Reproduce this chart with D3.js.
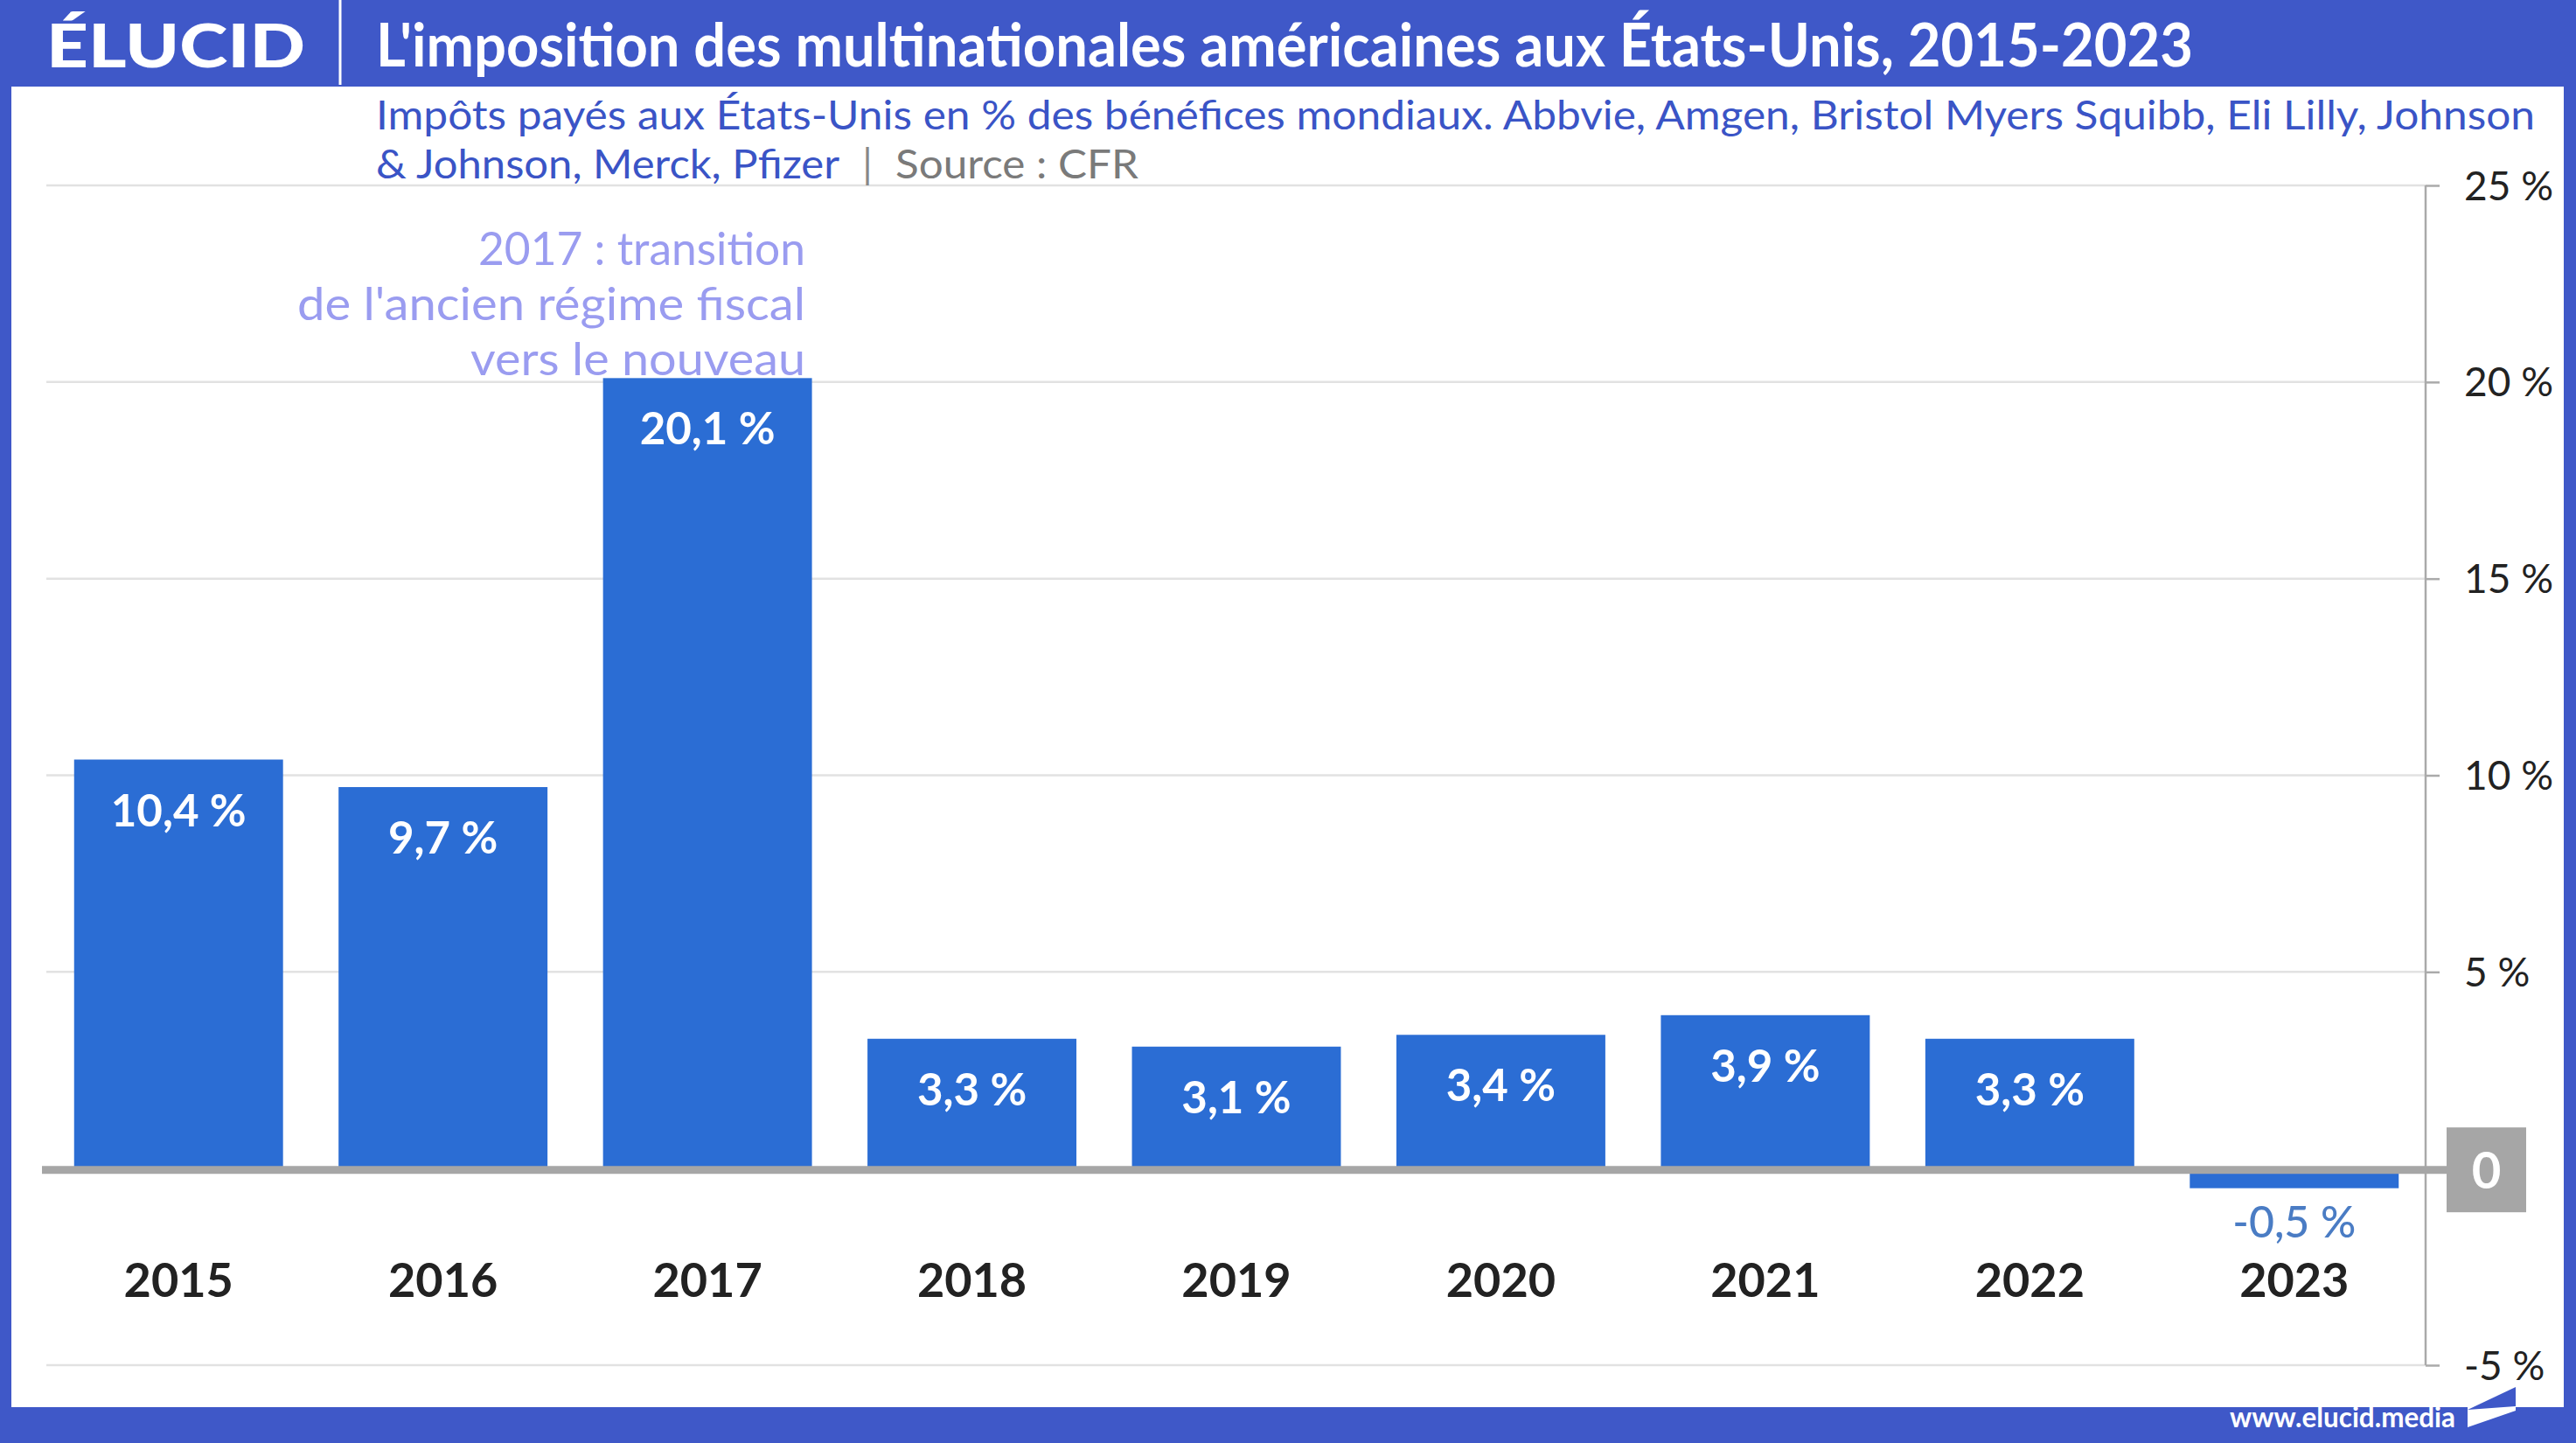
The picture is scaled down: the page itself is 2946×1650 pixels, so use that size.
<!DOCTYPE html>
<html><head><meta charset="utf-8">
<script src="https://cdn.jsdelivr.net/npm/d3@7"></script>
<style>html,body{margin:0;padding:0;background:#fff;}svg{display:block;}</style>
</head><body>
<script>
// ---- data ----
const years = ["2015","2016","2017","2018","2019","2020","2021","2022","2023"];
const values = [10.4, 9.7, 20.1, 3.3, 3.1, 3.4, 3.9, 3.3, -0.5];
const tickValues = [-5, 5, 10, 15, 20, 25];
const tickLabels = ["-5 %", "5 %", "10 %", "15 %", "20 %", "25 %"];
const title = "L'imposition des multinationales américaines aux États-Unis, 2015-2023";
const subtitle1 = "Impôts payés aux États-Unis en % des bénéfices mondiaux. Abbvie, Amgen, Bristol Myers Squibb, Eli Lilly, Johnson";
const subtitle2 = "& Johnson, Merck, Pfizer";
const sourceText = "Source : CFR";
const annotation = ["2017 : transition", "de l'ancien régime fiscal", "vers le nouveau"];
const annotationWidths = [374, 581, 383];

const W = 2946, H = 1650;
const FONT = "Lato, 'Open Sans', sans-serif";
const BAND = "#3f58c8", BAR = "#2b6dd4";

const svg = d3.select("body").append("svg").attr("width", W).attr("height", H)
  .style("font-family", FONT);

// frame
svg.append("rect").attr("width", W).attr("height", H).attr("fill", BAND);
svg.append("rect").attr("x", 13).attr("y", 99).attr("width", 2932 - 13).attr("height", 1609 - 99).attr("fill", "#fff");

// scales
const x = d3.scaleBand().domain(years).range([53, 2775]).paddingInner(0.21).paddingOuter(0.105);
const y = d3.scaleLinear().domain([-5, 25]).range([1561, 212]);
const fmt = v => d3.format(".1f")(v).replace(".", ",").replace("\u2212", "-") + " %";

// gridlines
svg.append("g").selectAll("line").data(tickValues).join("line")
  .attr("x1", 53).attr("x2", 2774)
  .attr("y1", d => y(d)).attr("y2", d => y(d))
  .attr("stroke", "#e2e2e2").attr("stroke-width", 2.5);

// right axis
const axis = d3.axisRight(y).tickValues(tickValues).tickSize(16).tickFormat((d, i) => tickLabels[i]);
const ag = svg.append("g").attr("transform", "translate(2774,0)").call(axis);
ag.select(".domain").attr("stroke", "#aaaaaa").attr("stroke-width", 2.5).attr("d", `M0,${y(25)}V${y(-5)}`);
ag.selectAll(".tick line").attr("stroke", "#aaaaaa").attr("stroke-width", 2.5);
ag.selectAll(".tick text").attr("x", 44).attr("dy", "0.35em")
  .attr("font-size", 46).attr("font-family", FONT).attr("fill", "#222").attr("text-anchor", "start");

// bars
svg.append("g").selectAll("rect").data(values).join("rect")
  .attr("x", (d, i) => x(years[i]))
  .attr("width", x.bandwidth())
  .attr("y", d => y(Math.max(0, d)))
  .attr("height", d => Math.abs(y(d) - y(0)))
  .attr("fill", BAR);

// zero line + box
svg.append("line").attr("x1", 48).attr("x2", 2800).attr("y1", y(0) + 1.5).attr("y2", y(0) + 1.5)
  .attr("stroke", "#a6a6a6").attr("stroke-width", 9);
svg.append("rect").attr("x", 2798).attr("y", y(0) - 47).attr("width", 91).attr("height", 97).attr("fill", "#a6a6a6");
svg.append("text").attr("x", 2843.5).attr("y", y(0) + 1.5).attr("dy", "0.36em").attr("text-anchor", "middle")
  .attr("font-size", 58).attr("font-weight", 700).attr("fill", "#fff").text("0");

// value labels
svg.append("g").selectAll("text").data(values).join("text")
  .attr("x", (d, i) => x(years[i]) + x.bandwidth() / 2)
  .attr("y", d => d >= 0 ? y(d) + 76 : y(d) + 56)
  .attr("text-anchor", "middle")
  .attr("font-size", d => d >= 0 ? 51 : 50)
  .attr("font-weight", d => d >= 0 ? 700 : 500)
  .attr("fill", d => d >= 0 ? "#fff" : "#4a7cc4")
  .text(fmt);

// year labels
svg.append("g").selectAll("text").data(years).join("text")
  .attr("x", d => x(d) + x.bandwidth() / 2)
  .attr("y", 1483)
  .attr("text-anchor", "middle")
  .attr("font-size", 54).attr("font-weight", 700).attr("fill", "#222")
  .text(d => d);

// annotation
svg.append("g").selectAll("text").data(annotation).join("text")
  .attr("x", (d, i) => 921 - annotationWidths[i]).attr("y", (d, i) => 303 + i * 63)
  .attr("text-anchor", "start").attr("font-size", 52).attr("fill", "#9a9cf0")
  .attr("textLength", (d, i) => annotationWidths[i]).attr("lengthAdjust", "spacingAndGlyphs")
  .text(d => d);

// header
svg.append("text").attr("x", 53).attr("y", 77).attr("font-size", 68).attr("font-weight", 900)
  .attr("fill", "#fff").attr("textLength", 296).attr("lengthAdjust", "spacingAndGlyphs").text("ÉLUCID");
svg.append("line").attr("x1", 389).attr("x2", 389).attr("y1", 0).attr("y2", 97)
  .attr("stroke", "#fff").attr("stroke-width", 3);
svg.append("text").attr("x", 430).attr("y", 76).attr("font-size", 68).attr("font-weight", 700)
  .attr("fill", "#fff").attr("textLength", 2078).attr("lengthAdjust", "spacingAndGlyphs").text(title);

// subtitle
svg.append("text").attr("x", 430).attr("y", 148).attr("font-size", 46).attr("fill", "#3a54c6")
  .attr("textLength", 2469).attr("lengthAdjust", "spacingAndGlyphs").text(subtitle1);
svg.append("text").attr("x", 430).attr("y", 204).attr("font-size", 46).attr("fill", "#3a54c6")
  .attr("textLength", 530).attr("lengthAdjust", "spacingAndGlyphs").text(subtitle2);
svg.append("text").attr("x", 992).attr("y", 204).attr("font-size", 46).attr("fill", "#888")
  .attr("text-anchor", "middle").text("|");
svg.append("text").attr("x", 1024).attr("y", 204).attr("font-size", 46).attr("fill", "#7a7a7a")
  .attr("textLength", 278).attr("lengthAdjust", "spacingAndGlyphs").text(sourceText);

// footer
svg.append("text").attr("x", 2550).attr("y", 1632).attr("font-size", 33).attr("font-weight", 700)
  .attr("fill", "#fff").attr("textLength", 258).attr("lengthAdjust", "spacingAndGlyphs").text("www.elucid.media");
svg.append("polygon").attr("points", "2822,1608 2877,1608 2877,1613 2822,1632").attr("fill", "#fff");
svg.append("polygon").attr("points", "2822,1612 2877,1586 2877,1608").attr("fill", BAND);
</script>
</body></html>
